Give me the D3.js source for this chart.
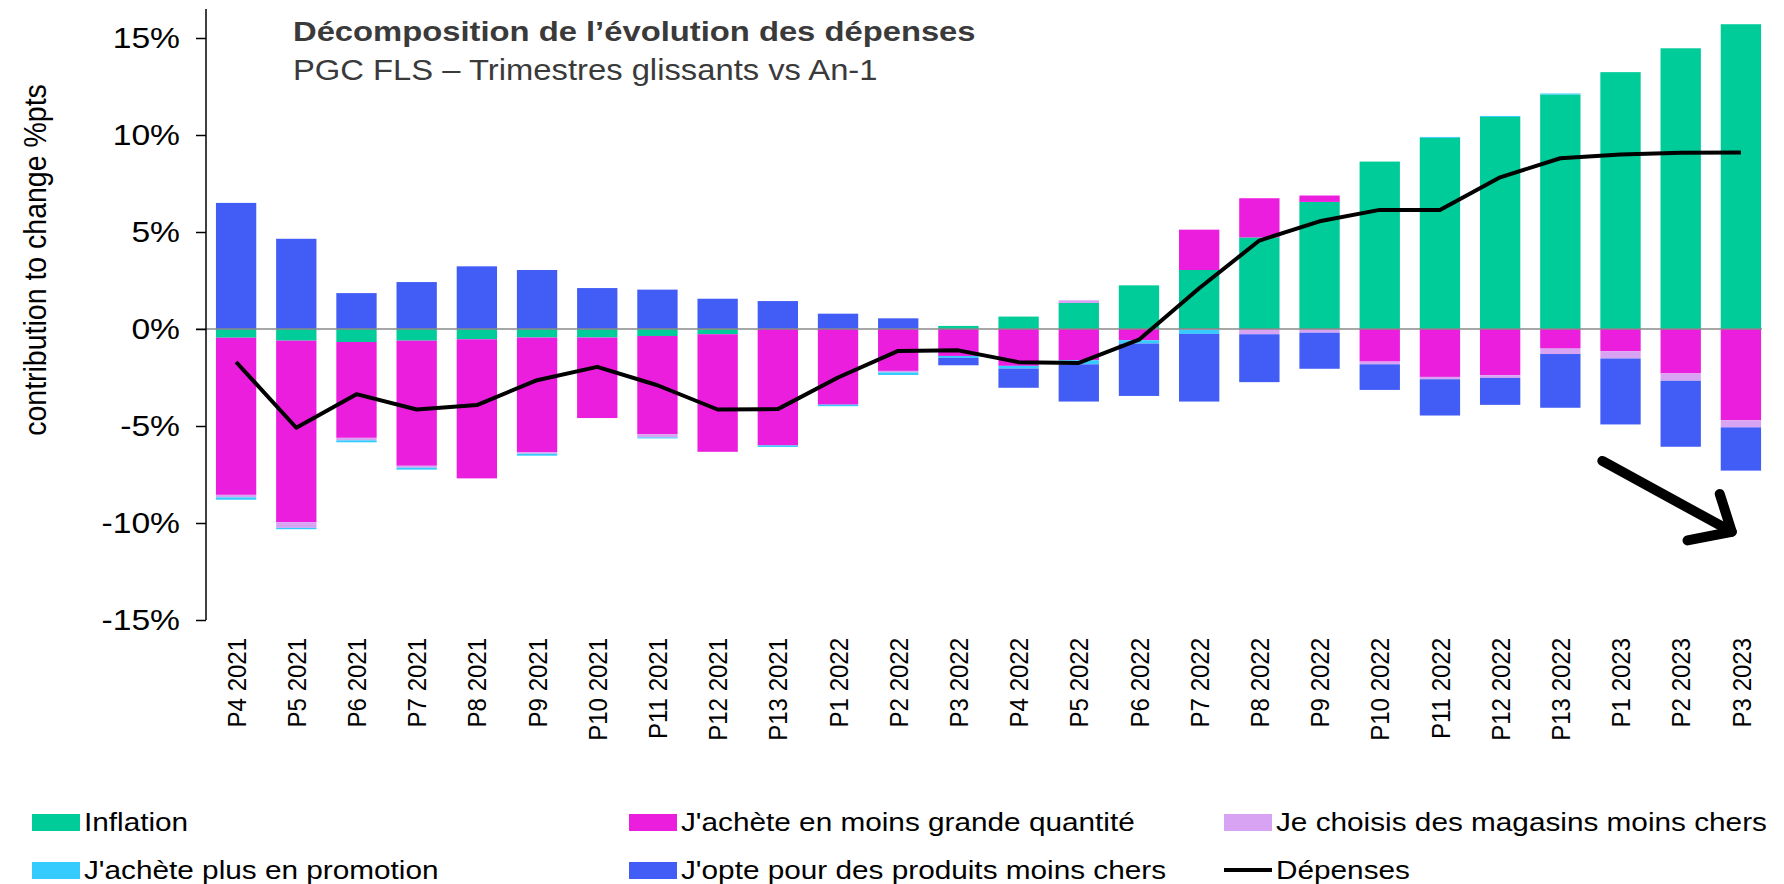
<!DOCTYPE html>
<html>
<head>
<meta charset="utf-8">
<script src="https://cdn.jsdelivr.net/npm/d3@7"></script>
<style>
body{margin:0;background:#fff;}
text{font-family:"Liberation Sans", Arial, sans-serif;}
</style>
</head>
<body>
<svg id="chart" width="1784" height="884"></svg>
<script>
/************************************ Data *******************************/
var categories = ["P4 2021","P5 2021","P6 2021","P7 2021","P8 2021","P9 2021","P10 2021","P11 2021","P12 2021","P13 2021",
	"P1 2022","P2 2022","P3 2022","P4 2022","P5 2022","P6 2022","P7 2022","P8 2022","P9 2022","P10 2022","P11 2022","P12 2022","P13 2022",
	"P1 2023","P2 2023","P3 2023"];
// contributions in %pts
var inflation = [-0.45,-0.6,-0.67,-0.6,-0.53,-0.44,-0.44,-0.36,-0.27,0,0,0,0.16,0.64,1.34,2.25,3.04,4.72,6.55,8.63,9.85,10.93,12.09,13.24,14.47,15.71];
var quantite  = [-8.1,-9.36,-4.94,-6.45,-7.17,-5.92,-4.15,-5.06,-6.06,-6.0,-3.9,-2.16,-1.39,-1.9,-1.61,-0.58,2.08,2.02,0.33,-1.68,-2.47,-2.38,-1.01,-1.15,-2.29,-4.7];
var magasins  = [-0.13,-0.29,-0.13,-0.1,0,-0.07,0,-0.17,0,0,0,-0.08,0,0,0.14,0,-0.05,-0.27,-0.19,-0.14,-0.12,-0.14,-0.28,-0.37,-0.38,-0.37];
var promotion = [-0.12,-0.07,-0.1,-0.1,0,-0.1,0,-0.05,0,-0.08,-0.08,-0.13,-0.1,-0.14,-0.21,-0.17,-0.2,0,0,0,0.05,0.05,0.05,0,0,0];
var produits  = [6.5,4.65,1.85,2.42,3.23,3.04,2.11,2.03,1.56,1.44,0.79,0.55,-0.38,-0.99,-1.92,-2.7,-3.49,-2.47,-1.86,-1.32,-1.87,-1.39,-2.77,-3.4,-3.4,-2.23];
var depenses  = [-1.7,-5.09,-3.36,-4.15,-3.92,-2.64,-1.95,-2.9,-4.15,-4.13,-2.5,-1.13,-1.1,-1.71,-1.75,-0.55,2.1,4.56,5.55,6.14,6.14,7.82,8.8,8.99,9.09,9.1];
var yTicks = [-15,-10,-5,0,5,10,15];
var yTickLabels = ["-15%","-10%","-5%","0%","5%","10%","15%"];

var seriesKeys = ["inflation","quantite","magasins","promotion","produits"];
var seriesNames = ["Inflation","J'achète en moins grande quantité","Je choisis des magasins moins chers",
	"J'achète plus en promotion","J'opte pour des produits moins chers"];
var seriesColors = ["#00CC99","#EC1EDE","#D8A3F3","#35CBFF","#425DF6"];
var lineName = "Dépenses";

/************************************ Scales *******************************/
var svg = d3.select("#chart");

var x = d3.scaleBand().domain(categories).range([206, 1771]).paddingInner(0.33).paddingOuter(0.165);
var y = d3.scaleLinear().domain([-15, 15]).range([620, 38]);
var color = d3.scaleOrdinal().domain(seriesKeys).range(seriesColors);

// text drawn with a small horizontal stretch, like the original picture
function stretchText(parent, px, py, str, size, sx, rot) {
	var g = parent.append("g")
		.attr("transform", "translate(" + px + "," + py + ") scale(" + sx + ",1)" + (rot ? " rotate(-90)" : ""));
	return g.append("text").attr("font-size", size).text(str);
}

/************************************ Bars *******************************/
var rows = categories.map(function(c, i) {
	return {cat: c, inflation: inflation[i], quantite: quantite[i], magasins: magasins[i],
		promotion: promotion[i], produits: produits[i]};
});
var stacked = d3.stack().keys(seriesKeys).offset(d3.stackOffsetDiverging)(rows);

svg.append("g").selectAll("g")
	.data(stacked)
	.join("g")
	.attr("fill", function(d) { return color(d.key); })
	.selectAll("rect")
	.data(function(d) { return d; })
	.join("rect")
	.attr("x", function(d) { return x(d.data.cat); })
	.attr("width", x.bandwidth())
	.attr("y", function(d) { return y(Math.max(d[0], d[1])); })
	.attr("height", function(d) { return Math.abs(y(d[0]) - y(d[1])); });

// zero line
svg.append("line")
	.attr("x1", 196).attr("x2", x.range()[1] - 9)
	.attr("y1", y(0)).attr("y2", y(0))
	.attr("stroke", "#8a8a8a").attr("stroke-width", 1.6);

/************************************ Line *******************************/
var line = d3.line()
	.x(function(d, i) { return x(categories[i]) + x.bandwidth() / 2; })
	.y(function(d) { return y(d); });
svg.append("path")
	.datum(depenses)
	.attr("d", line)
	.attr("fill", "none").attr("stroke", "#000").attr("stroke-width", 4)
	.attr("stroke-linejoin", "round");

/************************************ Axes *******************************/
var yAxis = d3.axisLeft(y).tickValues(yTicks).tickSize(10).tickSizeOuter(0).tickFormat("");
var ya = svg.append("g").attr("transform", "translate(206,0)").call(yAxis);
ya.select(".domain").remove();
ya.selectAll(".tick line").attr("stroke", "#000").attr("stroke-width", 1.5);
ya.append("line").attr("x1", 0).attr("x2", 0).attr("y1", y(-15)).attr("y2", y(16.5))
	.attr("stroke", "#000").attr("stroke-width", 1.5);

yTicks.forEach(function(v, i) {
	stretchText(svg, 180, y(v) + 10, yTickLabels[i], 29, 1.16, false)
		.attr("text-anchor", "end").attr("fill", "#000");
});

stretchText(svg, 46, 260, "contribution to change %pts", 28.5, 1.12, true)
	.attr("text-anchor", "middle").attr("fill", "#000");

categories.forEach(function(c) {
	stretchText(svg, x(c) + x.bandwidth() / 2, 638, c, 24, 1.11, true)
		.attr("text-anchor", "end").attr("dy", "0.36em").attr("fill", "#000");
});

/************************************ Titles *******************************/
stretchText(svg, 293, 41, "Décomposition de l’évolution des dépenses", 28, 1.17)
	.attr("font-weight", "bold").attr("fill", "#3a3a3a");
stretchText(svg, 293, 80, "PGC FLS – Trimestres glissants vs An-1", 29, 1.13)
	.attr("fill", "#3a3a3a");

/************************************ Arrow *******************************/
var arrowPts = [[x("P1 2023") + 2, y(-6.8)], [x("P3 2023") + 11, y(-10.45)]];
var headPts = [[x("P3 2023") - 1, y(-8.5)], [x("P3 2023") + 11, y(-10.45)], [x("P2 2023") + 27, y(-10.9)]];
svg.append("path").attr("d", d3.line()(arrowPts))
	.attr("stroke", "#000").attr("stroke-width", 10).attr("stroke-linecap", "round").attr("fill", "none");
svg.append("path").attr("d", d3.line()(headPts))
	.attr("stroke", "#000").attr("stroke-width", 10).attr("stroke-linecap", "round")
	.attr("stroke-linejoin", "round").attr("fill", "none");

/************************************ Legend *******************************/
var legendCols = [32, 629, 1224];
var legendRows = [822, 870];
var legendItems = seriesKeys.map(function(k, i) { return {name: seriesNames[i], color: seriesColors[i], type: "rect"}; });
legendItems.push({name: lineName, color: "#000", type: "line"});

legendItems.forEach(function(d, i) {
	var lx = legendCols[i % 3], ly = legendRows[Math.floor(i / 3)];
	if (d.type == "rect") {
		svg.append("rect").attr("x", lx).attr("y", ly - 8).attr("width", 48).attr("height", 17).attr("fill", d.color);
	} else {
		svg.append("line").attr("x1", lx).attr("x2", lx + 48).attr("y1", ly).attr("y2", ly)
			.attr("stroke", d.color).attr("stroke-width", 4);
	}
	stretchText(svg, lx + 52, ly + 9, d.name, 25, 1.19).attr("fill", "#000");
});
</script>
</body>
</html>
